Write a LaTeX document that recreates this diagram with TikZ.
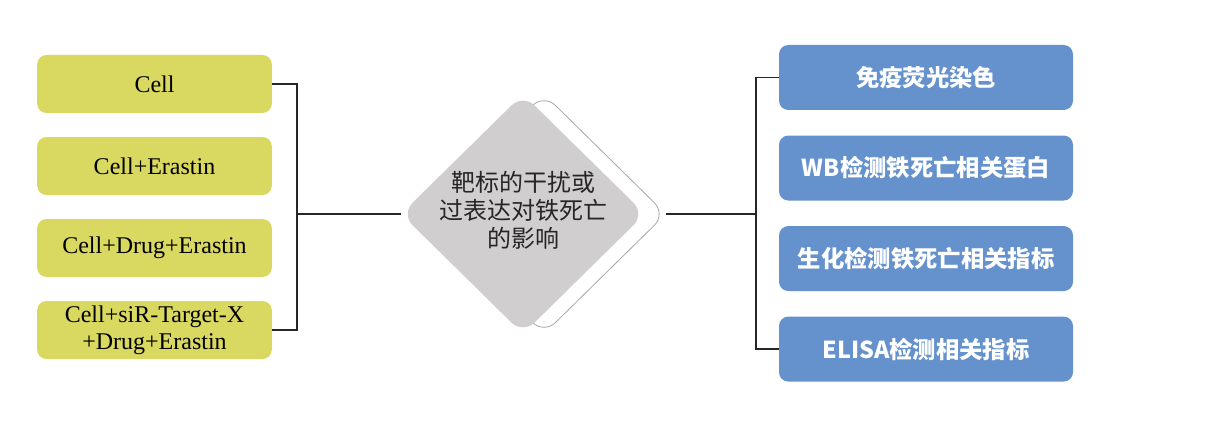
\documentclass[tikz,border=0pt]{standalone}
\usepackage{fontspec}
\setmainfont{Liberation Serif}
\newfontfamily\cjk{Noto Sans CJK SC}
\usetikzlibrary{positioning,shapes.geometric}
\definecolor{cellgreen}{HTML}{D9D860}
\definecolor{assayblue}{HTML}{6592CD}
\definecolor{hubgray}{HTML}{D0CECE}
\tikzset{
  cellbox/.style={fill=cellgreen, rounded corners=7pt, minimum width=176pt, minimum height=43.5pt, inner sep=0pt, align=center, font=\fontsize{18}{20}\selectfont},
  assaybox/.style={fill=assayblue, rounded corners=7pt, minimum width=220.5pt, minimum height=48.75pt, inner sep=0pt, text=white, font=\cjk\bfseries\fontsize{17.5}{20}\selectfont},
  hub/.style={diamond, aspect=1, fill=hubgray, rounded corners=12pt, minimum width=183pt, minimum height=180pt, inner sep=0pt},
  backdia/.style={hub, fill=white, draw=gray!70, line width=0.6pt},
  link/.style={line width=1pt, draw=black!85}
}
\begin{document}
\begin{tikzpicture}[x=0.75pt,y=-0.75pt]
\useasboundingbox (0,0) rectangle (1214,428);

\node[cellbox] (cell) at (154.5,84) {Cell};
\node[cellbox, below=17.6pt of cell] (era) {Cell+Erastin};
\node[cellbox, below=17.6pt of era] (drug) {Cell+Drug+Erastin};
\node[cellbox, below=17.6pt of drug] (sir) {Cell+siR-Target-X\\+Drug+Erastin};

\node[backdia] (back) at (544,214) {};
\node[hub] (center) at (523,214) {};
\node[align=center, text=black!85, font=\cjk\fontsize{18}{21}\selectfont] (topic) at ([yshift=3pt]center) {靶标的干扰或\\过表达对铁死亡\\的影响};

\node[assaybox] (ifl) at (926,77.5) {免疫荧光染色};
\node[assaybox, below=18.75pt of ifl] (wb) {WB检测铁死亡相关蛋白};
\node[assaybox, below=18.75pt of wb] (bio) {生化检测铁死亡相关指标};
\node[assaybox, below=18.75pt of bio] (elisa) {ELISA检测相关指标};

\coordinate (lj) at (297,214);
\coordinate (rj) at (756,214);
\draw[link] (cell.east) -- (cell.east -| lj) -- (sir.east -| lj) -- (sir.east);
\draw[link] (lj) -- (center.west);
\draw[link] (back.east) -- (rj);
\draw[link] (ifl.west) -- (ifl.west -| rj) -- (elisa.west -| rj) -- (elisa.west);

\end{tikzpicture}
\end{document}
